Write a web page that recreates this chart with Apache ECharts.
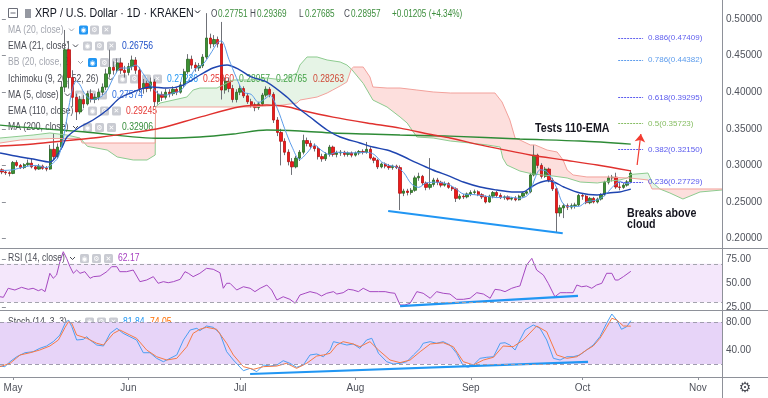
<!DOCTYPE html>
<html>
<head>
<meta charset="utf-8">
<title>XRP / U.S. Dollar 1D KRAKEN</title>
<script src="https://cdn.jsdelivr.net/npm/echarts@6/dist/echarts.min.js"></script>
<style>
  html, body { margin: 0; padding: 0; background: #fff; }
  #chart { width: 768px; height: 398px; }
</style>
</head>
<body>
<div id="chart"></div>
<script>
// x = trading day counted from 2019-04-28 (day 0)
const monthStarts = [3, 34, 64, 95, 126, 156, 187];
const monthNames = ['May', 'Jun', 'Jul', 'Aug', 'Sep', 'Oct', 'Nov'];
const priceTicks = [0.2, 0.25, 0.3, 0.35, 0.4, 0.45, 0.5];
const rsiTicks = [25, 50, 75];
const stochTicks = [40, 80];

const opens = [
  0.294,0.291,0.290,0.289,0.304,0.300,0.297,0.301,0.303,0.298,
  0.295,0.299,0.296,0.295,0.322,0.312,0.325,0.407,0.458,0.420,
  0.393,0.373,0.390,0.384,0.398,0.390,0.393,0.400,0.407,0.425,
  0.434,0.430,0.440,0.430,0.427,0.435,0.444,0.430,0.405,0.412,
  0.405,0.414,0.387,0.397,0.393,0.400,0.398,0.404,0.400,0.410,
  0.428,0.445,0.437,0.433,0.436,0.448,0.474,0.466,0.472,0.466,
  0.403,0.415,0.405,0.390,0.400,0.405,0.395,0.387,0.383,0.379,
  0.384,0.396,0.404,0.397,0.362,0.345,0.333,0.318,0.305,0.298,
  0.310,0.318,0.334,0.330,0.326,0.323,0.312,0.309,0.315,0.325,
  0.315,0.317,0.318,0.315,0.317,0.314,0.317,0.319,0.318,0.322,
  0.310,0.307,0.298,0.302,0.299,0.297,0.299,0.297,0.262,0.265,
  0.263,0.266,0.283,0.285,0.276,0.270,0.274,0.280,0.277,0.273,
  0.275,0.270,0.268,0.255,0.258,0.257,0.261,0.263,0.264,0.260,
  0.257,0.250,0.258,0.263,0.259,0.256,0.257,0.254,0.255,0.253,
  0.258,0.262,0.264,0.287,0.314,0.300,0.285,0.295,0.280,0.268,
  0.235,0.242,0.245,0.243,0.245,0.246,0.259,0.258,0.249,0.255,
  0.250,0.254,0.260,0.277,0.283,0.284,0.2705,0.270,0.273,0.27751
];
const closes = [
  0.291,0.290,0.289,0.304,0.300,0.297,0.301,0.303,0.298,0.295,
  0.299,0.296,0.295,0.322,0.312,0.325,0.407,0.458,0.420,0.393,
  0.373,0.390,0.384,0.398,0.390,0.393,0.400,0.407,0.425,0.434,
  0.430,0.440,0.430,0.427,0.435,0.444,0.430,0.405,0.412,0.405,
  0.414,0.387,0.397,0.393,0.400,0.398,0.404,0.400,0.410,0.428,
  0.445,0.437,0.433,0.436,0.448,0.474,0.466,0.472,0.466,0.403,
  0.415,0.405,0.390,0.400,0.405,0.395,0.387,0.383,0.379,0.384,
  0.396,0.404,0.397,0.362,0.345,0.333,0.318,0.305,0.298,0.310,
  0.318,0.334,0.330,0.326,0.323,0.312,0.309,0.315,0.325,0.315,
  0.317,0.318,0.315,0.317,0.314,0.317,0.319,0.318,0.322,0.310,
  0.307,0.298,0.302,0.299,0.297,0.299,0.297,0.262,0.265,0.263,
  0.266,0.283,0.285,0.276,0.270,0.274,0.280,0.277,0.273,0.275,
  0.270,0.268,0.255,0.258,0.257,0.261,0.263,0.264,0.260,0.257,
  0.250,0.258,0.263,0.259,0.256,0.257,0.254,0.255,0.253,0.258,
  0.262,0.264,0.287,0.314,0.300,0.285,0.295,0.280,0.268,0.235,
  0.242,0.245,0.243,0.245,0.246,0.259,0.258,0.249,0.255,0.250,
  0.254,0.260,0.277,0.283,0.284,0.2705,0.270,0.273,0.27751,0.28957
];
const lows = [
  0.288,0.287,0.285,0.288,0.298,0.295,0.295,0.299,0.296,0.293,
  0.294,0.294,0.292,0.294,0.308,0.309,0.322,0.400,0.405,0.380,
  0.362,0.370,0.378,0.382,0.386,0.385,0.389,0.396,0.403,0.420,
  0.424,0.426,0.425,0.420,0.423,0.430,0.425,0.400,0.398,0.400,
  0.401,0.380,0.383,0.388,0.390,0.393,0.395,0.396,0.398,0.407,
  0.425,0.432,0.428,0.429,0.433,0.445,0.460,0.462,0.461,0.390,
  0.398,0.400,0.386,0.386,0.396,0.392,0.384,0.379,0.374,0.376,
  0.381,0.393,0.393,0.358,0.340,0.300,0.314,0.300,0.287,0.296,
  0.306,0.315,0.326,0.322,0.319,0.308,0.305,0.306,0.312,0.312,
  0.311,0.313,0.312,0.312,0.311,0.312,0.314,0.315,0.316,0.308,
  0.303,0.295,0.296,0.296,0.294,0.294,0.295,0.239,0.258,0.259,
  0.260,0.264,0.279,0.273,0.266,0.267,0.271,0.273,0.270,0.271,
  0.268,0.265,0.250,0.253,0.254,0.255,0.258,0.260,0.258,0.254,
  0.248,0.249,0.255,0.256,0.254,0.253,0.252,0.252,0.251,0.252,
  0.256,0.260,0.262,0.285,0.296,0.282,0.283,0.277,0.265,0.209,
  0.230,0.228,0.239,0.240,0.241,0.244,0.253,0.247,0.247,0.248,
  0.248,0.252,0.258,0.274,0.278,0.268,0.266,0.268,0.271,0.27685
];
const highs = [
  0.296,0.293,0.292,0.306,0.307,0.302,0.303,0.308,0.309,0.300,
  0.302,0.301,0.299,0.328,0.344,0.330,0.415,0.485,0.470,0.430,
  0.398,0.395,0.396,0.402,0.404,0.398,0.405,0.412,0.432,0.458,
  0.442,0.446,0.447,0.436,0.440,0.450,0.448,0.434,0.418,0.416,
  0.420,0.418,0.402,0.401,0.405,0.404,0.408,0.407,0.414,0.432,
  0.452,0.450,0.441,0.440,0.452,0.508,0.480,0.478,0.476,0.496,
  0.420,0.420,0.410,0.404,0.410,0.408,0.399,0.391,0.386,0.387,
  0.399,0.408,0.407,0.400,0.366,0.350,0.337,0.322,0.310,0.313,
  0.321,0.342,0.338,0.334,0.330,0.326,0.316,0.318,0.328,0.327,
  0.320,0.321,0.320,0.319,0.319,0.319,0.321,0.322,0.332,0.325,
  0.312,0.309,0.304,0.304,0.302,0.301,0.301,0.300,0.268,0.268,
  0.269,0.286,0.290,0.287,0.278,0.310,0.283,0.283,0.279,0.278,
  0.277,0.272,0.270,0.261,0.261,0.263,0.266,0.267,0.266,0.262,
  0.259,0.260,0.265,0.265,0.262,0.259,0.259,0.257,0.258,0.260,
  0.264,0.266,0.290,0.328,0.316,0.303,0.298,0.297,0.283,0.270,
  0.246,0.248,0.248,0.248,0.249,0.261,0.262,0.260,0.257,0.257,
  0.256,0.262,0.279,0.286,0.287,0.290,0.276,0.276,0.280,0.29369
];

// indicator lines as [day, value]
const ema21 = [[-0.5,0.317],[5,0.3115],[8.4,0.3087],[13,0.3046],[14.3,0.3101],[16.2,0.3251],[17.5,0.3388],[21,0.3525],[24.5,0.362],[28.3,0.3757],[31.7,0.3921],[35.3,0.4003],[39.8,0.4071],[44.4,0.4057],[48.7,0.4098],[53.2,0.4235],[56.7,0.4331],[60.5,0.4372],[64,0.4303],[67,0.4208],[71.2,0.4139],[76.6,0.3934],[79.3,0.3798],[82.8,0.3661],[87.4,0.3484],[90.9,0.3388],[96.2,0.3306],[99.7,0.3251],[103.5,0.321],[107,0.3142],[111.5,0.3033],[115.8,0.2937],[120.4,0.285],[124,0.2773],[128.5,0.2705],[133,0.2664],[137,0.2637],[140,0.2637],[142,0.2695],[144,0.2755],[146.5,0.279],[148.5,0.277],[151,0.2705],[155.4,0.2623],[160,0.2596],[163,0.2623],[166,0.2637],[169,0.26756]];
const ma5 = [[-0.5,0.293],[3,0.294],[6,0.298],[9,0.300],[12,0.297],[13.5,0.302],[15,0.31],[16,0.325],[17,0.35],[18,0.38],[19,0.405],[20,0.415],[21,0.41],[22,0.40],[24,0.39],[26,0.392],[28,0.40],[30,0.42],[32,0.433],[34,0.433],[36,0.437],[38,0.425],[40,0.41],[42,0.398],[44,0.396],[46,0.399],[48,0.402],[50,0.415],[52,0.432],[54,0.438],[56,0.452],[58,0.468],[59,0.47],[61,0.445],[63,0.42],[65,0.40],[67,0.397],[69,0.386],[71,0.392],[72,0.396],[74,0.378],[76,0.35],[78,0.325],[80,0.308],[82,0.317],[84,0.328],[86,0.32],[88,0.315],[90,0.318],[94,0.317],[98,0.318],[100,0.315],[102,0.305],[104,0.300],[106,0.298],[108,0.29],[110,0.275],[112,0.27],[114,0.276],[117,0.277],[120,0.274],[122,0.268],[124,0.261],[127,0.26],[130,0.258],[133,0.256],[136,0.257],[139,0.255],[141,0.258],[142,0.265],[143.3,0.283],[144.6,0.294],[146.3,0.292],[147.9,0.281],[149.2,0.268],[150.5,0.25],[152,0.244],[155,0.244],[157,0.25],[160,0.253],[162,0.259],[164,0.27],[166,0.278],[168,0.275],[169,0.27574]];
const ema110 = [[-0.5,0.3265],[8.4,0.3293],[17.5,0.3338],[26.4,0.3384],[35.2,0.3447],[42.5,0.3507],[53.2,0.366],[64,0.3802],[71.2,0.3825],[77,0.3798],[80.1,0.3757],[89,0.366],[98.1,0.358],[107,0.351],[116,0.3415],[120.4,0.3374],[128.5,0.328],[142,0.3142],[151,0.3074],[160,0.3005],[169,0.29245]];
const ma200 = [[-0.5,0.355],[8.4,0.351],[21.8,0.346],[42.5,0.337],[53.2,0.3388],[62.2,0.3429],[71.2,0.3484],[80.1,0.347],[89,0.3443],[98,0.3429],[107,0.3415],[120.4,0.340],[139.2,0.336],[155.4,0.3333],[169,0.32906]];

// Ichimoku leading spans (crossings listed in both)
const spanA = [[-0.5,0.3374],[8.4,0.3415],[12.9,0.3443],[17.5,0.3415],[21,0.3374],[22.2,0.3306],[23,0.326],[28.3,0.321],[31,0.3115],[35.3,0.3074],[39,0.3074],[41.2,0.3142],[41.3,0.3798],[42.5,0.3852],[49.7,0.3934],[51.4,0.403],[53.2,0.4057],[57.8,0.4057],[62.1,0.4167],[66.7,0.4167],[71.2,0.4194],[75.5,0.4167],[79.3,0.4262],[80.1,0.4372],[82,0.4481],[84.7,0.4481],[87.4,0.444],[90.9,0.4413],[92.7,0.4372],[93.9,0.4317],[97.1,0.412],[99.7,0.3893],[103.5,0.3798],[107,0.3661],[108.9,0.3579],[111.5,0.3388],[115.9,0.3374],[120.5,0.3333],[125.8,0.3306],[130.4,0.3279],[133.9,0.3251],[134.6,0.3101],[135.7,0.3005],[139.2,0.2923],[142.7,0.2882],[148.1,0.2855],[151.9,0.2828],[155.4,0.2773],[160,0.276],[163.4,0.2787],[166.1,0.2801],[168,0.2828],[169,0.28765],[173.6,0.2896],[174.7,0.2773],[176.8,0.2678],[179.5,0.2623],[183,0.2541],[187.6,0.2637],[193.5,0.2664]];
const spanB = [[-0.5,0.3306],[5,0.3347],[12.9,0.3367],[21,0.3367],[21.6,0.3306],[22.2,0.3306],[41.2,0.3306],[41.3,0.3798],[66.7,0.3798],[71.2,0.3811],[75.5,0.3825],[79.3,0.3852],[80.1,0.3893],[84.7,0.3934],[87.4,0.3989],[88.9,0.403],[90.9,0.4085],[92.7,0.4139],[93.9,0.4317],[94.5,0.4344],[97.1,0.4344],[98.9,0.4208],[99.7,0.4071],[103.5,0.4057],[107,0.4057],[111.5,0.403],[115.9,0.4003],[120.5,0.3989],[132.5,0.3989],[134.4,0.3866],[136.5,0.362],[137.9,0.3374],[139.2,0.3347],[142,0.3279],[143.3,0.3279],[146.5,0.321],[149.2,0.3183],[150.8,0.3074],[151.9,0.2937],[153.5,0.2869],[157.2,0.2842],[162.6,0.2842],[168,0.2828],[169,0.28263],[173.6,0.2801],[174.7,0.2678],[176.8,0.2678],[193.5,0.2678]];
const cloudRegions = [[-0.5,22.2,'up'],[22.2,41.2,'down'],[41.3,93.9,'up'],[93.9,168,'down'],[168,176.8,'up'],[176.8,193.5,'down']];

const rsi = [[-0.5,35.7],[0.4,35.1],[1.7,44.5],[3.5,42.7],[5.3,45.5],[7.1,43.4],[8.4,44.5],[9.8,42],[10.7,43.4],[11.6,41],[12.9,60.1],[13.8,54.9],[14.7,58.3],[15.6,72.2],[16.5,82.6],[17.4,75.7],[18.3,67],[19.2,60.1],[20.1,63.5],[21,60.1],[22.3,61.8],[23.7,54.9],[24.6,56.6],[26.4,57.3],[28.2,61.8],[29.5,67],[30.9,67],[31.7,61.8],[33.5,61.8],[35.3,63.5],[37.1,51.4],[38.9,53.1],[40.7,56.6],[42,49.7],[43.4,51.4],[44.7,50.3],[46.1,51.4],[47.9,53.8],[49.2,61.8],[50.1,60.1],[51.4,56.6],[53.2,60.1],[55,65.3],[56.8,64.3],[58.6,60.7],[59.5,44.5],[60.4,49.7],[61.3,49.7],[63.1,42.7],[64.9,46.1],[66.7,44.5],[68,41],[69.4,44.5],[71.2,47.9],[72.5,42.7],[73.9,32.3],[75.6,35.7],[77.4,33],[78.8,28.9],[80.1,37.5],[81.5,39.3],[82.8,41],[84.6,39.3],[85.9,36.5],[87.3,39.3],[89.1,41],[90,38.5],[91.7,39.9],[93.1,43.4],[94.4,42.7],[95.8,41],[97.1,44.5],[98.9,41],[101.2,41],[103,41],[104.3,39.9],[105.6,39.3],[107,27.1],[108.3,27.1],[109.7,28.9],[111.5,41],[113.2,39.3],[115.1,34.1],[116.8,41],[118.6,39.3],[120.4,38.5],[122.2,33],[124,33],[125.8,34.1],[127.6,39.9],[129.4,38.5],[131.2,34.1],[132.5,43.4],[133.9,42.7],[135.2,41],[137,44.5],[138.3,46.1],[139.2,46.9],[141,68.8],[142.4,75.7],[143.7,63.5],[145.5,58.3],[146.8,49.7],[148.6,35.7],[150,39.9],[151.8,39.9],[153.5,39.9],[154.5,47.9],[155.8,46.1],[157.1,46.9],[158.5,44.5],[159.8,47.9],[161.2,49.7],[162.5,60.1],[163.9,60.1],[164.8,53.1],[165.6,53.1],[167,56.6],[169,62.17]];
const stochK = [[-0.5,17.1],[0.8,16.2],[2.2,23.3],[4,30.4],[6.2,36.1],[8.4,37.6],[10.2,42.4],[12,45.7],[13.8,51.9],[15.6,61.4],[17,78.1],[17.9,82.9],[18.8,73.3],[20.1,54.3],[21.9,55.2],[22.8,59],[23.7,54.3],[25.5,47.1],[27.3,45.7],[29.1,63.8],[30.9,71],[32.6,63.8],[34.4,59],[36.2,54.3],[38,36.1],[39.8,36.1],[41.6,28.1],[43.4,23.3],[45.2,28.1],[47,32.9],[48.8,54.3],[50.6,68.6],[52.4,71],[53.2,67.6],[55,74.3],[56.8,72.4],[58.6,63.8],[60.4,37.6],[62.2,25.7],[64.9,10.4],[66.7,13.8],[68.5,9],[70.3,18.6],[72.1,17.1],[73.9,18.6],[75.6,24.7],[77.4,21],[79.2,15.3],[81,18.6],[82.8,32.9],[84.6,34.3],[86.4,30.4],[88.2,40],[89.1,51.9],[90.9,49.6],[92.7,47.1],[94.4,48.6],[96.2,42.4],[98,54.3],[99.4,56.7],[101.2,35.3],[103.4,23.3],[105.2,20],[107,21],[108.8,23.3],[110.6,32.9],[112.4,42.4],[113.2,49.6],[115.1,51.9],[116.8,49.6],[118.6,51.9],[120.4,47.1],[122.2,35.3],[124,17.1],[125.3,15.3],[126.7,18.6],[128.5,28.1],[130.3,29.6],[132.1,30.4],[133.9,49.6],[135.2,50.4],[136.5,47.1],[137.9,40],[139.2,54.3],[140.6,68.6],[142.8,75.7],[144.6,71],[146.4,54.3],[148.2,28.1],[150,25.7],[151.8,30.4],[153.5,30.4],[155.3,32.9],[157.1,40],[158.9,47.1],[160.7,59],[162.5,78.1],[163.9,91.4],[165.2,82.9],[166.5,69.6],[167.9,73.3],[169,81.84]];
const stochD = [[-0.5,16.2],[2.2,21],[4.9,32.9],[7.6,36.1],[10.2,40],[12.9,45.7],[15.2,54.3],[17,72.4],[17.9,80.4],[18.8,78.1],[20.1,61.4],[22.8,56.7],[25.5,49.6],[27.3,47.1],[30,63.8],[31.7,68.6],[34.4,61.4],[36.2,56.7],[38.9,40],[41.6,30.4],[44.3,25.7],[47,28.1],[49.7,44.7],[51.4,63.8],[53.2,69.6],[55,72.4],[57.7,69.6],[60.4,49.6],[62.2,32.9],[64.9,16.2],[67.6,12.4],[70.3,16.2],[73.9,17.1],[76.5,21],[79.2,13.8],[81.9,21],[84.6,31.4],[86.4,32.9],[88.2,35.3],[90,47.1],[91.7,51.9],[94.4,48.6],[96.2,44.7],[98.9,51.9],[101.2,40],[104.3,25.7],[107,21.9],[109.7,25.7],[112.4,37.6],[115.1,48.6],[118.6,50.4],[121.3,44.7],[124,23.3],[126.7,18.6],[129.4,25.7],[132.1,29.6],[134.7,45.7],[137.4,44.7],[140.1,54.3],[143.7,74.3],[146.4,66.1],[149.1,32.9],[151.8,28.1],[154.5,30.4],[157.1,40],[158.9,45.7],[160.7,56.7],[162.5,72.4],[163.9,85.3],[165.2,82.9],[167,74.3],[169,74.05]];

// hand-drawn annotations
const priceTrend = [[103.8,0.2377],[150.7,0.2073]];
const rsiTrend = [[107,26.0],[154.8,36.5]];
const stochTrend = [[66.7,5.7],[157.5,22.9]];
const arrowFrom = [170.7, 0.3005];
const arrowTo = [171.7, 0.3429];

const fibRatios = ['0.886', '0.786', '0.618', '0.5', '0.382', '0.236'];
const fibPrices = [0.47409, 0.44382, 0.39295, 0.35723, 0.32150, 0.27729];
const fibColors = ['#6262EE', '#5D9CEC', '#5A5AEE', '#86BD62', '#5A5AEE', '#5A5AEE'];

const fontN = "'Liberation Sans', Arial, sans-serif";
const squeeze = 0.82; // the screenshot text is horizontally condensed
const axisGray = '#8E9199';
const labelGray = '#50535C';

const chart = echarts.init(document.getElementById('chart'));

const last = closes.length - 1;
const wickData = opens.map((o, i) => [i, o, closes[i], lows[i], highs[i]]);
const bodyData = opens.map((o, i) => [i, o, closes[i], Math.min(o, closes[i]), Math.max(o, closes[i])]);

const fibLines = fibRatios.map((r, k) => [
  {
    coord: [165.6, fibPrices[k]],
    lineStyle: { color: fibColors[k], type: [2, 1], width: 1 },
    label: { show: true, position: 'end', distance: 5, padding: [10, 0, 0, 0], color: fibColors[k], fontSize: 8, fontFamily: fontN, formatter: r + '(' + fibPrices[k].toFixed(5) + ')' }
  },
  { coord: [172.3, fibPrices[k]] }
]);

function cloudItem(params, api) {
  const r = cloudRegions[params.dataIndex];
  const top = spanA.filter(p => p[0] >= r[0] && p[0] <= r[1]).map(p => api.coord(p));
  const bot = spanB.filter(p => p[0] >= r[0] && p[0] <= r[1]).reverse().map(p => api.coord(p));
  return {
    type: 'polygon',
    shape: { points: top.concat(bot) },
    style: { fill: r[2] === 'up' ? 'rgba(76,175,80,0.14)' : 'rgba(244,67,54,0.17)' },
    silent: true
  };
}

function lineSeries(data, color, width, grid, extra) {
  return Object.assign({
    type: 'line', xAxisIndex: grid, yAxisIndex: grid, data: data,
    showSymbol: false, symbol: 'none', silent: true,
    lineStyle: { color: color, width: width }
  }, extra || {});
}

function txt(x, y, text, style) {
  return {
    type: 'text', x: x, y: y, scaleX: squeeze, silent: true,
    style: Object.assign({ text: text, fill: '#4A4C55', fontSize: 10.5, fontFamily: fontN, align: 'left', verticalAlign: 'middle' }, style || {})
  };
}
function note(x, y, text) {
  return txt(x, y, text, { fill: '#15151f', fontSize: 13, fontWeight: 'bold' });
}
function icon(x, y, glyph, blue) {
  return {
    type: 'group', x: x, y: y - 4.5, silent: true,
    children: [
      { type: 'rect', shape: { x: 0, y: 0, width: 9, height: 9, r: 1.5 }, style: { fill: blue ? '#2196F3' : '#C9CBD2' } },
      { type: 'text', x: 4.5, y: 4.8, style: { text: glyph, fill: '#fff', fontSize: 7, fontFamily: 'DejaVu Sans', align: 'center', verticalAlign: 'middle' } }
    ]
  };
}
function caret(x, y, color) {
  return { type: 'polyline', silent: true, shape: { points: [[x, y - 1.5], [x + 2.5, y + 1], [x + 5, y - 1.5]] }, style: { stroke: color, lineWidth: 1, fill: null } };
}

const legendRows = [
  { y: 30, name: 'MA (20, close)', hidden: true, icons: [79, 90, 102], values: [] },
  { y: 46, name: 'EMA (21, close)', icons: [83, 95, 107], values: [[122, '0.26756', '#1E4FC8']] },
  { y: 62.5, name: 'BB (20, close, 2)', hidden: true, icons: [88, 100, 112], values: [] },
  { y: 79, name: 'Ichimoku (9, 26, 52, 26)', icons: [118, 130, 142, 153], values: [[167, '0.27236', '#2196F3'], [203, '0.25960', '#E53935'], [239, '0.28957', '#43A047'], [276, '0.28765', '#43A047'], [313, '0.28263', '#E53935']] },
  { y: 95, name: 'MA (5, close)', icons: [75, 87, 98], values: [[112, '0.27574', '#2F6FE0']] },
  { y: 111, name: 'EMA (110, close)', icons: [88, 100, 112], values: [[126, '0.29245', '#E53935']] },
  { y: 127.5, name: 'MA (200, close)', icons: [83, 95, 107], values: [[122, '0.32906', '#388E3C']] },
  { y: 258.5, name: 'RSI (14, close)', icons: [80, 92, 104], values: [[118, '62.17', '#A640C0']] },
  { y: 322, name: 'Stoch (14, 3, 3)', icons: [85, 97, 109], values: [[123, '81.84', '#2196F3'], [150, '74.05', '#FF6D00']] }
];

const graphics = [];
legendRows.forEach(row => {
  const col = row.hidden ? '#A3A6AF' : '#4A4C55';
  graphics.push(txt(8, row.y, row.name, { fill: col }));
  graphics.push(caret(row.icons[0] - 10, row.y, col));
  const glyphs = row.icons.length === 4 ? ['◉', '⚙', '!', '✕'] : ['◉', '⚙', '✕'];
  row.icons.forEach((x, k) => graphics.push(icon(x, row.y, glyphs[k], row.hidden && k === 0)));
  row.values.forEach(v => graphics.push(txt(v[0], row.y, v[1], { fill: v[2] })));
});

// title row
const ohlcStyle = { fill: '#4A4C55', fontSize: 10 };
const ohlcValue = { fill: '#3E8E3E', fontSize: 10 };
graphics.push(
  { type: 'rect', silent: true, shape: { x: 8.5, y: 8.5, width: 9, height: 9 }, style: { fill: null, stroke: '#6A6D78', lineWidth: 1 } },
  { type: 'line', silent: true, shape: { x1: 10.5, y1: 13, x2: 15.5, y2: 13 }, style: { stroke: '#6A6D78', lineWidth: 1 } },
  { type: 'rect', silent: true, shape: { x: 25, y: 9, width: 6, height: 9 }, style: { fill: '#9598A1' } },
  txt(35, 13, 'XRP / U.S. Dollar · 1D · KRAKEN', { fill: '#131722', fontSize: 13 }),
  caret(195, 12, '#131722'),
  txt(211, 14, 'O', ohlcStyle), txt(218, 14, '0.27751', ohlcValue),
  txt(250, 14, 'H', ohlcStyle), txt(257, 14, '0.29369', ohlcValue),
  txt(299, 14, 'L', ohlcStyle), txt(305, 14, '0.27685', ohlcValue),
  txt(344, 14, 'C', ohlcStyle), txt(351, 14, '0.28957', ohlcValue),
  txt(392, 14, '+0.01205 (+4.34%)', ohlcValue)
);

// annotations
graphics.push(
  note(535, 128, 'Tests 110-EMA'),
  note(627, 213, 'Breaks above'), note(627, 224.5, 'cloud'),
  note(403, 281, 'Bullish divergence'),
  note(635, 276, 'RSI bias'), note(635, 287.5, 'higher'),
  note(426, 334, 'Bullish divergence'),
  note(638, 340, 'Momentum'), note(638, 351.5, 'bullish')
);

// pane separators, price scale border, settings glyph
graphics.push(
  { type: 'line', silent: true, z: 50, shape: { x1: 0, y1: 248.5, x2: 768, y2: 248.5 }, style: { stroke: axisGray, lineWidth: 1 } },
  { type: 'line', silent: true, z: 50, shape: { x1: 0, y1: 310.5, x2: 768, y2: 310.5 }, style: { stroke: axisGray, lineWidth: 1 } },
  { type: 'line', silent: true, z: 50, shape: { x1: 0, y1: 377.5, x2: 768, y2: 377.5 }, style: { stroke: axisGray, lineWidth: 1 } },
  { type: 'line', silent: true, z: 50, shape: { x1: 722.5, y1: 0, x2: 722.5, y2: 398 }, style: { stroke: axisGray, lineWidth: 1 } },
  { type: 'text', x: 745, y: 388, silent: true, style: { text: '⚙', fill: '#4A4C55', fontSize: 14, fontFamily: 'DejaVu Sans', align: 'center', verticalAlign: 'middle' } }
);

function yAxisFor(grid, min, max, ticks, digits) {
  return {
    type: 'value', gridIndex: grid, position: 'right', min: min, max: max,
    splitLine: { show: false },
    axisLine: { show: false },
    axisTick: { show: true, customValues: ticks, length: 4, lineStyle: { color: axisGray } },
    axisLabel: { customValues: ticks, margin: 4, color: labelGray, fontSize: 10, fontFamily: fontN, formatter: v => v.toFixed(digits) }
  };
}
function xAxisFor(grid, withLabels) {
  return {
    type: 'value', gridIndex: grid, min: -0.5, max: 193.5,
    splitLine: { show: false },
    axisLine: { show: false },
    axisTick: { show: withLabels, customValues: monthStarts, length: 3, lineStyle: { color: axisGray } },
    axisLabel: {
      show: withLabels, customValues: monthStarts, margin: 6, color: labelGray, fontSize: 10, fontFamily: fontN,
      formatter: v => monthNames[monthStarts.indexOf(v)]
    }
  };
}

const option = {
  animation: false,
  backgroundColor: '#ffffff',
  grid: [
    { left: 0, right: 46, top: 0, height: 248 },
    { left: 0, right: 46, top: 249, height: 61 },
    { left: 0, right: 46, top: 311, height: 66 }
  ],
  xAxis: [xAxisFor(0, false), xAxisFor(1, false), xAxisFor(2, true)],
  yAxis: [
    yAxisFor(0, 0.18716, 0.52596, priceTicks, 5),
    yAxisFor(1, 21.875, 85.42, rsiTicks, 2),
    yAxisFor(2, 1.43, 95.71, stochTicks, 2)
  ],
  graphic: { elements: graphics },
  series: [
    {
      type: 'custom', xAxisIndex: 0, yAxisIndex: 0, silent: true, clip: true,
      data: cloudRegions.map(r => [r[0], r[1]]),
      renderItem: cloudItem
    },
    lineSeries(spanA, '#8DCB8F', 1, 0),
    lineSeries(spanB, '#F2A19B', 1, 0),
    {
      type: 'candlestick', xAxisIndex: 0, yAxisIndex: 0, silent: true, barWidth: 1,
      data: wickData,
      itemStyle: { color: '#6F7177', color0: '#6F7177', borderColor: '#6F7177', borderColor0: '#6F7177', borderWidth: 1 }
    },
    {
      type: 'candlestick', xAxisIndex: 0, yAxisIndex: 0, silent: true, barWidth: 2.8,
      data: bodyData,
      itemStyle: { color: '#3C9032', color0: '#EE1B1B', borderColor: '#2A6A22', borderColor0: '#B81212', borderWidth: 0.8 },
      markLine: {
        silent: true, symbol: 'none', animation: false,
        label: { show: false },
        data: fibLines.concat([
          [
            { coord: arrowFrom, symbol: 'none', lineStyle: { color: '#F23B30', width: 1.2, type: 'solid' } },
            { coord: arrowTo, symbol: 'arrow', symbolSize: 8 }
          ],
          {
            yAxis: closes[last],
            lineStyle: { width: 0, opacity: 0 },
            label: {
              show: true, position: 'end', distance: 1, formatter: closes[last].toFixed(5),
              backgroundColor: '#3B8A38', color: '#ffffff', padding: [3, 4, 2, 5],
              fontSize: 10, fontFamily: fontN
            }
          }
        ])
      }
    },
    lineSeries(ma200, '#2E8B36', 1.4, 0, { smooth: 0.3 }),
    lineSeries(ema110, '#E0312E', 1.4, 0, { smooth: 0.3 }),
    lineSeries(ema21, '#1F45B0', 1.4, 0, { smooth: 0.3 }),
    lineSeries(ma5, '#5B9BE8', 1, 0, { smooth: 0.3 }),
    lineSeries(priceTrend, '#2196F3', 2.2, 0),

    lineSeries(rsi, '#A548C0', 1, 1, {
      markArea: { silent: true, itemStyle: { color: '#F4E7FB' }, data: [[{ yAxis: 30 }, { yAxis: 70 }]] },
      markLine: { silent: true, symbol: 'none', label: { show: false }, lineStyle: { type: [4, 3], color: '#A4A4AE', width: 1 }, data: [{ yAxis: 70 }, { yAxis: 30 }] }
    }),
    lineSeries(rsiTrend, '#2196F3', 2.2, 1),

    lineSeries(stochK, '#4B9EF2', 1, 2, {
      markArea: { silent: true, itemStyle: { color: '#E7D4F8' }, data: [[{ yAxis: 20 }, { yAxis: 80 }]] },
      markLine: { silent: true, symbol: 'none', label: { show: false }, lineStyle: { type: [4, 3], color: '#A09CAE', width: 1 }, data: [{ yAxis: 80 }, { yAxis: 20 }] }
    }),
    lineSeries(stochD, '#F57A45', 1, 2),
    lineSeries(stochTrend, '#2196F3', 2.2, 2)
  ]
};

chart.setOption(option);
</script>
</body>
</html>
